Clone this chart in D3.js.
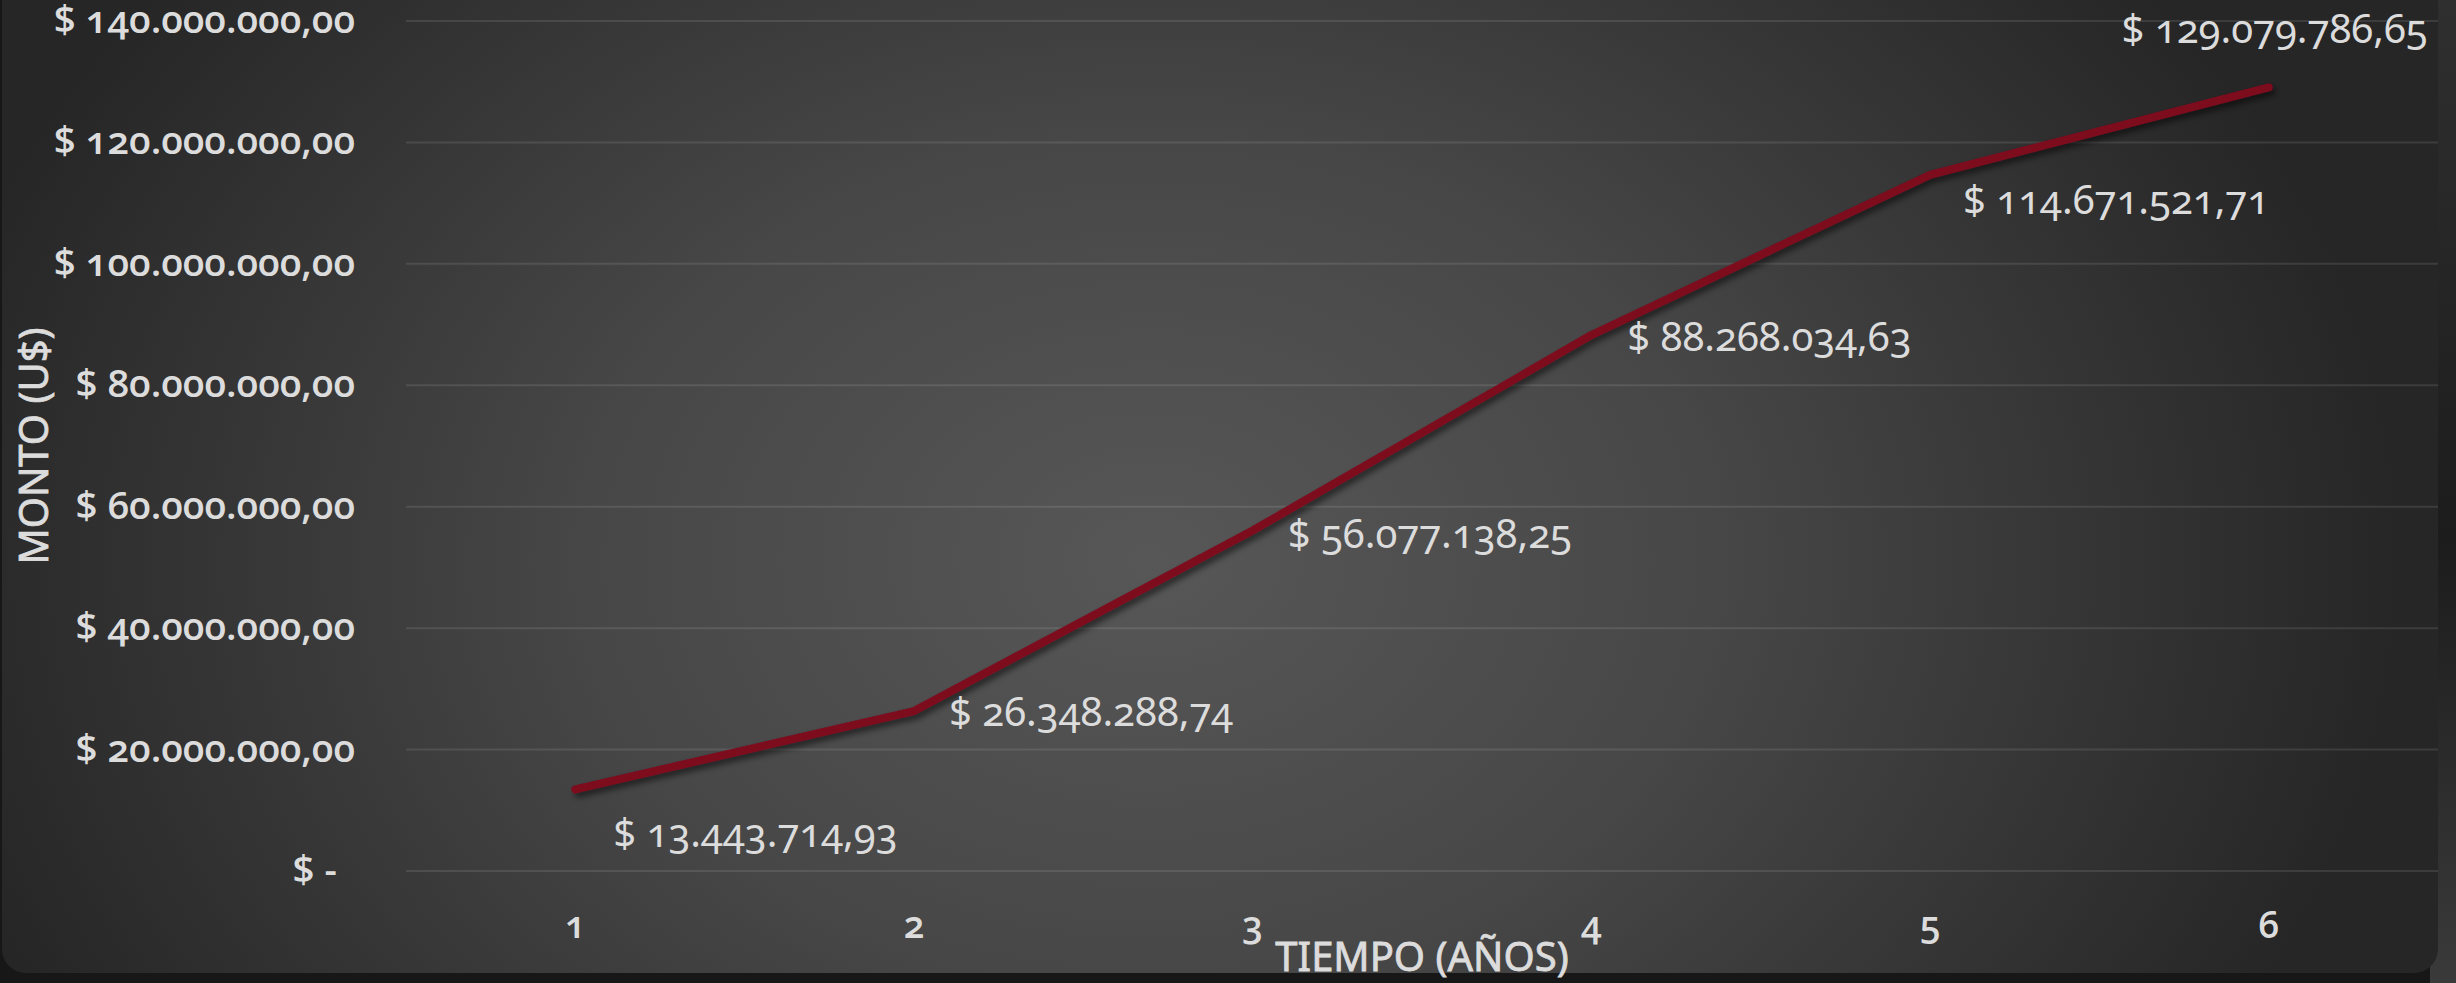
<!DOCTYPE html>
<html lang="es">
<head>
<meta charset="utf-8">
<title>Monto acumulado por año</title>
<script src="https://cdn.jsdelivr.net/npm/d3@7/dist/d3.min.js"></script>
<style>
  html, body { margin: 0; padding: 0; background: #171717; overflow: hidden; }
  svg { display: block; }
  text { font-family: "Noto Sans", "Open Sans", sans-serif; fill: #dcdcdc; }
  .tick-y text { font-family: "Open Sans", sans-serif; font-weight: 600; font-size: 38.5px; font-feature-settings: "onum" 1; }
  .tick-x text { font-family: "Open Sans", sans-serif; font-weight: 600; font-size: 37px; font-feature-settings: "onum" 1; }
  .data-label { font-family: "Noto Sans", sans-serif; font-size: 40px; font-weight: 400; font-feature-settings: "onum" 1; }
  .axis-title { font-family: "Noto Sans", sans-serif; font-size: 40px; font-weight: 400; stroke: #dcdcdc; stroke-width: 0.8px; }
</style>
</head>
<body>
<svg id="chart" width="2456" height="983"></svg>
<script>
// Years on the horizontal axis
const years = ["1", "2", "3", "4", "5", "6"];
// Accumulated amount (U$) per year
const montos = [13443714.93, 26348288.74, 56077138.25, 88268034.63, 114671521.71, 129079786.65];
// Value-axis ticks
const yTicks = [0, 20000000, 40000000, 60000000, 80000000, 100000000, 120000000, 140000000];

const W = 2456, H = 983;
const plot = { left: 406, right: 2438, top: 21, bottom: 871 };

const svg = d3.select("#chart");
const defs = svg.append("defs");

// Panel background: soft radial light in the middle, dark edges
const rg = defs.append("radialGradient")
  .attr("id", "panelGrad")
  .attr("gradientUnits", "userSpaceOnUse")
  .attr("cx", 1150).attr("cy", 560).attr("r", 1250)
  .attr("gradientTransform", "translate(1150,560) scale(1,0.75) translate(-1150,-560)");
rg.append("stop").attr("offset", "0").attr("stop-color", "#575757");
rg.append("stop").attr("offset", "0.45").attr("stop-color", "#474747");
rg.append("stop").attr("offset", "1").attr("stop-color", "#262626");

// Strip of backdrop visible to the right of the panel
const sg = defs.append("linearGradient").attr("id", "stripGrad")
  .attr("x1", 0).attr("y1", 0).attr("x2", 0).attr("y2", 1);
sg.append("stop").attr("offset", "0").attr("stop-color", "#2f2f2f");
sg.append("stop").attr("offset", "0.55").attr("stop-color", "#1c1c1c");
sg.append("stop").attr("offset", "1").attr("stop-color", "#3a3a3a");

const shadow = defs.append("filter").attr("id", "lineShadow")
  .attr("x", "-10%").attr("y", "-10%").attr("width", "120%").attr("height", "130%");
shadow.append("feDropShadow")
  .attr("dx", 3).attr("dy", 4).attr("stdDeviation", 3)
  .attr("flood-color", "#000").attr("flood-opacity", 0.55);

svg.append("rect").attr("x", 2430).attr("y", 0).attr("width", W - 2430).attr("height", H)
  .attr("fill", "url(#stripGrad)");

svg.append("rect")
  .attr("x", 2).attr("y", -40).attr("width", 2436).attr("height", 1013)
  .attr("rx", 24).attr("ry", 24)
  .attr("fill", "url(#panelGrad)");

// Number formatting: Spanish style, "$ 13.443.714,93"
const locale = d3.formatLocale({ decimal: ",", thousands: ".", grouping: [3], currency: ["$ ", ""] });
const money = locale.format("$,.2f");

const x = d3.scaleBand().domain(years).range([plot.left, plot.right]);
const cx = d => x(d) + x.bandwidth() / 2;
const y = d3.scaleLinear().domain([0, 140000000]).range([plot.bottom, plot.top]);

// Horizontal gridlines
svg.append("g")
  .selectAll("line").data(yTicks).join("line")
  .attr("x1", plot.left).attr("x2", plot.right)
  .attr("y1", d => y(d)).attr("y2", d => y(d))
  .attr("stroke", "#ffffff").attr("stroke-opacity", 0.1).attr("stroke-width", 2);

// Value axis
const yAxis = d3.axisLeft(y).tickValues(yTicks).tickSize(0).tickPadding(0)
  .tickFormat(d => d === 0 ? "$ -" : money(d));
const gy = svg.append("g").attr("class", "tick-y")
  .attr("transform", `translate(355,0)`)
  .call(yAxis);
gy.select(".domain").remove();
gy.selectAll("text").attr("dy", "0.3em")
  .attr("dx", d => d === 0 ? -18 : 0);

// Category axis
const xAxis = d3.axisBottom(x).tickSize(0).tickPadding(0);
const gx = svg.append("g").attr("class", "tick-x")
  .attr("transform", `translate(0,938)`)
  .call(xAxis);
gx.select(".domain").remove();
gx.selectAll("text").attr("y", 0).attr("dy", 0);

// Series line
const line = d3.line().x((d, i) => cx(years[i])).y(d => y(d));
svg.append("path")
  .datum(montos)
  .attr("d", line)
  .attr("fill", "none")
  .attr("stroke", "#7d0a1f")
  .attr("stroke-width", 8)
  .attr("stroke-linejoin", "round")
  .attr("stroke-linecap", "round")
  .attr("filter", "url(#lineShadow)");

// Data label placement relative to each point
const labelPlacement = [
  { dx: 38, dy: 58, anchor: "start" },
  { dx: 35, dy: 15, anchor: "start" },
  { dx: 35, dy: 17, anchor: "start" },
  { dx: 36, dy: 16, anchor: "start" },
  { dx: 33, dy: 39, anchor: "start" },
  { dx: 159, dy: -44, anchor: "end" }
];

svg.append("g")
  .selectAll("text").data(montos).join("text")
  .attr("class", "data-label")
  .attr("x", (d, i) => cx(years[i]) + labelPlacement[i].dx)
  .attr("y", (d, i) => y(d) + labelPlacement[i].dy)
  .attr("text-anchor", (d, i) => labelPlacement[i].anchor)
  .text(d => money(d));

// Axis titles
svg.append("text").attr("class", "axis-title")
  .attr("x", (plot.left + plot.right) / 2).attr("y", 971)
  .attr("text-anchor", "middle")
  .text("TIEMPO (AÑOS)");

svg.append("text").attr("class", "axis-title")
  .attr("transform", `translate(48,${(plot.top + plot.bottom) / 2}) rotate(-90)`)
  .attr("text-anchor", "middle")
  .text("MONTO (U$)");
</script>
</body>
</html>
